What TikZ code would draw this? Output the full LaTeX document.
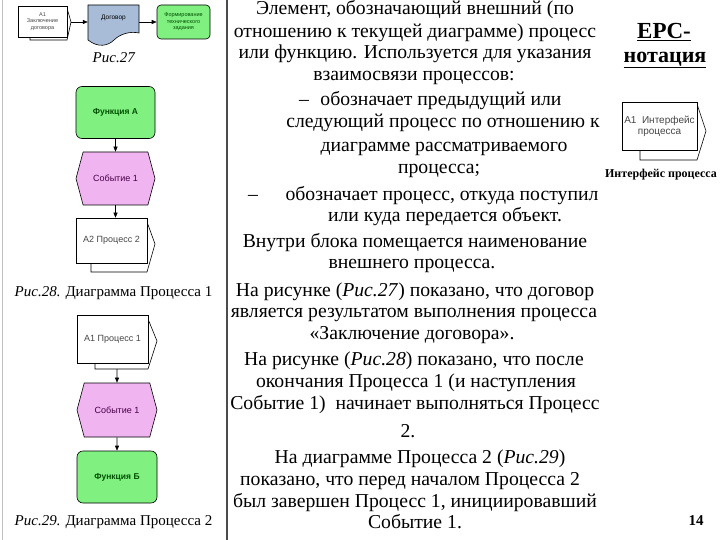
\documentclass[tikz,border=0pt]{standalone}
\usepackage{fontspec}
\setmainfont{Liberation Serif}
\newfontfamily\arialf{Liberation Sans}
\usetikzlibrary{arrows.meta,shapes.symbols}
\definecolor{fgreen}{RGB}{128,240,128}
\definecolor{fpink}{RGB}{240,180,240}
\definecolor{fblue}{RGB}{168,188,216}
\definecolor{tgreen}{RGB}{0,80,0}
\definecolor{tpurple}{RGB}{70,0,70}
\definecolor{tgray}{RGB}{70,70,70}
\begin{document}
\begin{tikzpicture}[x=1pt,y=-1pt,
 body/.style={font=\fontsize{19.7}{22}\selectfont, inner sep=0pt, text height=0.7em, text depth=0.2em},
 func/.style={draw=black, fill=fgreen, rounded corners=6pt, minimum width=79pt, minimum height=52pt, inner sep=0pt, font=\arialf\bfseries\fontsize{8.5}{10}\selectfont, text=tgreen, line width=0.6pt, align=center},
 event/.style={draw=black, fill=fpink, shape=signal, signal to=east and west, signal pointer angle=150, minimum width=79pt, minimum height=53pt, font=\arialf\fontsize{9}{10}\selectfont, text=tpurple, inner sep=0pt, line width=0.6pt},
 proc/.style={draw=black, fill=white, minimum width=71pt, minimum height=45pt, font=\arialf\fontsize{9}{10}\selectfont, text=tgray, inner sep=0pt, line width=0.6pt, align=center},
 back/.style={draw=black, fill=white, line width=0.6pt},
 arr/.style={-{Triangle[length=5pt,width=4pt]}, line width=0.6pt},
 capt/.style={font=\fontsize{15}{17}\selectfont, inner sep=0pt},
 ttl/.style={font=\bfseries\fontsize{22}{24}\selectfont, inner sep=0pt}
]
\useasboundingbox (0,0) rectangle (720,540);
\fill[white] (0,0) rectangle (720,540);
\draw[black!25, line width=1pt] (2,0) -- (2,540);
\draw[black!70, line width=1.2pt] (227,0) -- (227,540);

% ---------- Fig 27
\filldraw[back] (30,8) -- (67,8) -- (71,22) -- (67,40) -- (30,40) -- cycle;
\node[proc, minimum width=49pt, minimum height=31pt, font=\arialf\fontsize{5.5}{6.5}\selectfont] (pi27) at (42.5,21.5) {А1\\Заключение\\договора};
\coordinate (t27) at (71,22);
\draw[fill=fblue, line width=0.6pt] (88,40) -- (88,5) -- (139,5) -- (139,33) .. controls (130,31) and (120,34) .. (114,40) .. controls (108,46) and (98,48) .. (88,40) -- cycle;
\node[minimum width=51pt, minimum height=35pt, inner sep=0pt] (doc) at (113.5,22) {};
\node[font=\arialf\fontsize{6.5}{7.5}\selectfont, inner sep=0pt] (doct) at (113.5,18) {Договор};
\node[func, minimum width=53pt, minimum height=34pt, rounded corners=4pt, font=\arialf\fontsize{5.5}{6.5}\selectfont] (g27) at (183.5,22) {Формирование\\технического\\задания};
\draw[arr] (t27) -- (doc.west);
\draw[arr] (doc.east) -- (g27.west);
\node[capt] (c27) at (114,58) {\textit{Рис.27}};

% ---------- Fig 28
\node[func] (fa) at (115.5,112.5) {Функция А};
\node[event] (ev1) at (115.5,178.5) {Событие 1};
\filldraw[back] (91,222) -- (147,222) -- (155,244) -- (147,272) -- (91,272) -- cycle;
\node[proc] (pr2) at (111.5,240.5) {А2 Процесс 2};
\draw[arr] (fa) -- (ev1);
\draw[arr] (ev1.south) -- (ev1.south |- pr2.north);
\node[capt] (c28) at (113.5,293) {\textit{Рис.28.} Диаграмма Процесса 1};

% ---------- Fig 29
\filldraw[back] (95,319) -- (148,319) -- (157,341) -- (148,369) -- (95,369) -- cycle;
\node[proc, minimum height=48pt] (pr1) at (112.5,339) {А1 Процесс 1};
\coordinate (p3b) at (117,369);
\node[event, minimum width=80pt, minimum height=54pt] (ev2) at (117,410) {Событие 1};
\node[func, minimum width=80pt] (fb) at (117,477) {Функция Б};
\draw[arr] (p3b) -- (ev2);
\draw[arr] (ev2) -- (fb);
\node[capt] (c29) at (113.5,522) {\textit{Рис.29.} Диаграмма Процесса 2};

% ---------- right column
\node[ttl, font=\bfseries\fontsize{23}{25}\selectfont] (t1) at (664,32) {\underline{EPC-}};
\node[ttl] (t2) at (665,60) {\underline{нотация}};
\filldraw[back] (640,104) -- (697,104) -- (706,131) -- (697,160) -- (640,160) -- cycle;
\node[proc, minimum width=75pt, minimum height=48pt, font=\arialf\fontsize{10}{11}\selectfont] (ip) at (659.5,126) {А1\ \ Интерфейс\\процесса};
\node[font=\bfseries\fontsize{12}{14}\selectfont, inner sep=0pt] (ipc) at (661,175) {Интерфейс процесса};
\node[font=\bfseries\fontsize{15}{17}\selectfont, inner sep=0pt] (pg) at (696,521) {14};

% ---------- text column
\node[body] (l1) at (415,12) {Элемент, обозначающий внешний (по};
\node[body] (l2) at (415,35) {отношению к текущей диаграмме) процесс};
\node[body] (l3) at (415,56) {или функцию. Используется для указания};
\node[body] (l4) at (414,78) {взаимосвязи процессов:};
\node[body] (d1) at (304,103) {–};
\node[body] (l5) at (441,103) {обозначает предыдущий или};
\node[body] (l6) at (443,125) {следующий процесс по отношению к};
\node[body] (l7) at (444,149) {диаграмме рассматриваемого};
\node[body] (l8) at (439,171) {процесса;};
\node[body] (d2) at (253,198) {–};
\node[body] (l9) at (442,198) {обозначает процесс, откуда поступил};
\node[body] (l10) at (445,219) {или куда передается объект.};
\node[body] (l11) at (415,245) {Внутри блока помещается наименование};
\node[body] (l12) at (412,266) {внешнего процесса.};
\node[body] (l13) at (415,294) {На рисунке (\textit{Рис.27}) показано, что договор};
\node[body] (l14) at (414,315) {является результатом выполнения процесса};
\node[body] (l15) at (412,337) {«Заключение договора».};
\node[body] (l16) at (414,363) {На рисунке (\textit{Рис.28}) показано, что после};
\node[body] (l17) at (416,385) {окончания Процесса 1 (и наступления};
\node[body] (l18) at (415,407) {Событие 1)\ \ начинает выполняться Процесс};
\node[body] (l19) at (408,435) {2.};
\node[body] (l20) at (420,461) {На диаграмме Процесса 2 (\textit{Рис.29})};
\node[body] (l21) at (410,483) {показано, что перед началом Процесса 2};
\node[body] (l22) at (415,505) {был завершен Процесс 1, инициировавший};
\node[body] (l23) at (415,526) {Событие 1.};
\end{tikzpicture}
\end{document}
